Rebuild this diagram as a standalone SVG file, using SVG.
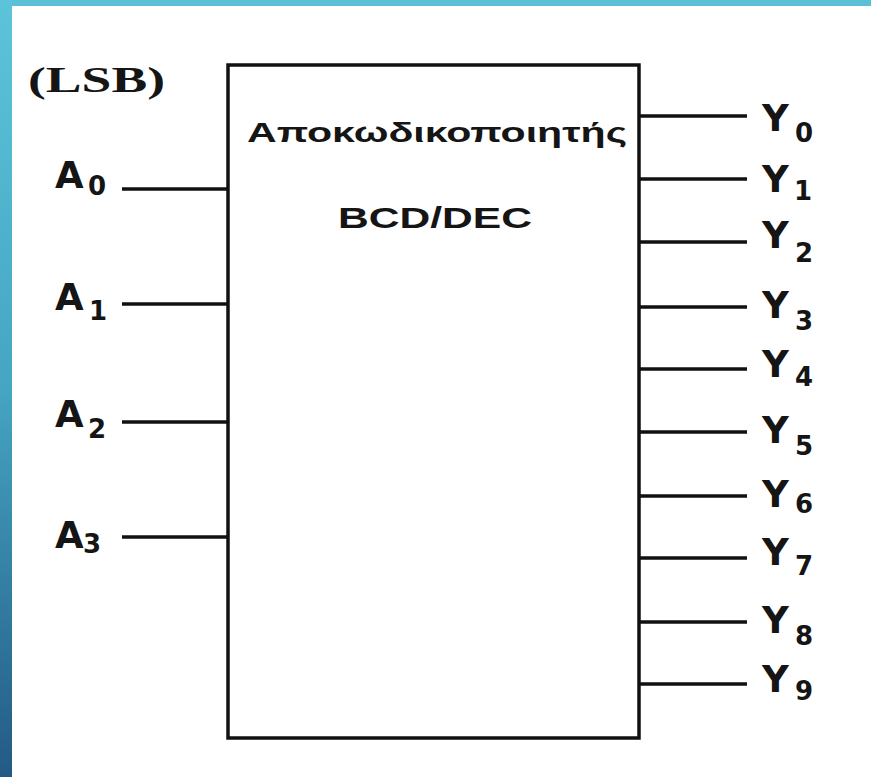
<svg xmlns="http://www.w3.org/2000/svg" width="871" height="777" viewBox="0 0 871 777">
<defs>
<linearGradient id="lg" x1="0" y1="0" x2="0" y2="1">
<stop offset="0" stop-color="#5cc4da"/>
<stop offset="0.5" stop-color="#45a5c2"/>
<stop offset="1" stop-color="#235a84"/>
</linearGradient>
<style>
.w{stroke:#111;stroke-width:3.5;fill:none;stroke-linecap:butt}
.lbl{font-family:"DejaVu Sans","Liberation Sans",sans-serif;font-weight:bold;fill:#151515}
.big{font-size:37px}
.sub{font-size:26px}
.t{font-family:"Liberation Sans",Arial,sans-serif;font-weight:bold;fill:#151515}
</style>
</defs>
<rect x="0" y="0" width="871" height="777" fill="#ffffff"/>
<rect x="0" y="0" width="871" height="6" fill="#5bbfd6"/>
<rect x="0" y="0" width="12" height="777" fill="url(#lg)"/>
<text x="28" y="92" font-family="Liberation Serif,'Times New Roman',serif" font-weight="bold" font-size="36" fill="#151515" textLength="137" lengthAdjust="spacingAndGlyphs">(LSB)</text>
<g id="decoder">
<rect x="228" y="65" width="411" height="673" fill="#fff" stroke="#111" stroke-width="3.5"/>
<text class="t" x="247" y="142" font-size="28" textLength="380" lengthAdjust="spacingAndGlyphs">Αποκωδικοποιητής</text>
<text class="t" x="338" y="228" font-size="29" textLength="194" lengthAdjust="spacingAndGlyphs">BCD/DEC</text>
</g>
<g id="connectors">
<line class="w" x1="122" y1="189" x2="228" y2="189"/>
<line class="w" x1="122" y1="304" x2="228" y2="304"/>
<line class="w" x1="122" y1="422" x2="228" y2="422"/>
<line class="w" x1="122" y1="537" x2="228" y2="537"/>
<line class="w" x1="639" y1="116" x2="747" y2="116"/>
<line class="w" x1="639" y1="179" x2="747" y2="179"/>
<line class="w" x1="639" y1="242" x2="747" y2="242"/>
<line class="w" x1="639" y1="307" x2="747" y2="307"/>
<line class="w" x1="639" y1="369" x2="747" y2="369"/>
<line class="w" x1="639" y1="432" x2="747" y2="432"/>
<line class="w" x1="639" y1="496" x2="747" y2="496"/>
<line class="w" x1="639" y1="558" x2="747" y2="558"/>
<line class="w" x1="639" y1="622" x2="747" y2="622"/>
<line class="w" x1="639" y1="684" x2="747" y2="684"/>
</g>
<g id="in-A0"><text class="lbl big" x="55" y="188">A<tspan class="sub" x="88" y="195">0</tspan></text></g>
<g id="in-A1"><text class="lbl big" x="55" y="310">A<tspan class="sub" x="89" y="320">1</tspan></text></g>
<g id="in-A2"><text class="lbl big" x="55" y="427">A<tspan class="sub" x="88" y="438">2</tspan></text></g>
<g id="in-A3"><text class="lbl big" x="55" y="548">A<tspan class="sub" x="83" y="553">3</tspan></text></g>
<g id="out-Y0"><text class="lbl big" x="762" y="131">Y<tspan class="sub" x="795" y="142">0</tspan></text></g>
<g id="out-Y1"><text class="lbl big" x="762" y="192">Y<tspan class="sub" x="794" y="200">1</tspan></text></g>
<g id="out-Y2"><text class="lbl big" x="762" y="248">Y<tspan class="sub" x="795" y="262">2</tspan></text></g>
<g id="out-Y3"><text class="lbl big" x="762" y="318">Y<tspan class="sub" x="795" y="330">3</tspan></text></g>
<g id="out-Y4"><text class="lbl big" x="762" y="377">Y<tspan class="sub" x="795" y="386">4</tspan></text></g>
<g id="out-Y5"><text class="lbl big" x="762" y="443">Y<tspan class="sub" x="795" y="455">5</tspan></text></g>
<g id="out-Y6"><text class="lbl big" x="762" y="507">Y<tspan class="sub" x="795" y="513">6</tspan></text></g>
<g id="out-Y7"><text class="lbl big" x="762" y="565">Y<tspan class="sub" x="795" y="575">7</tspan></text></g>
<g id="out-Y8"><text class="lbl big" x="762" y="633">Y<tspan class="sub" x="795" y="645">8</tspan></text></g>
<g id="out-Y9"><text class="lbl big" x="762" y="692">Y<tspan class="sub" x="795" y="700">9</tspan></text></g>
</svg>
